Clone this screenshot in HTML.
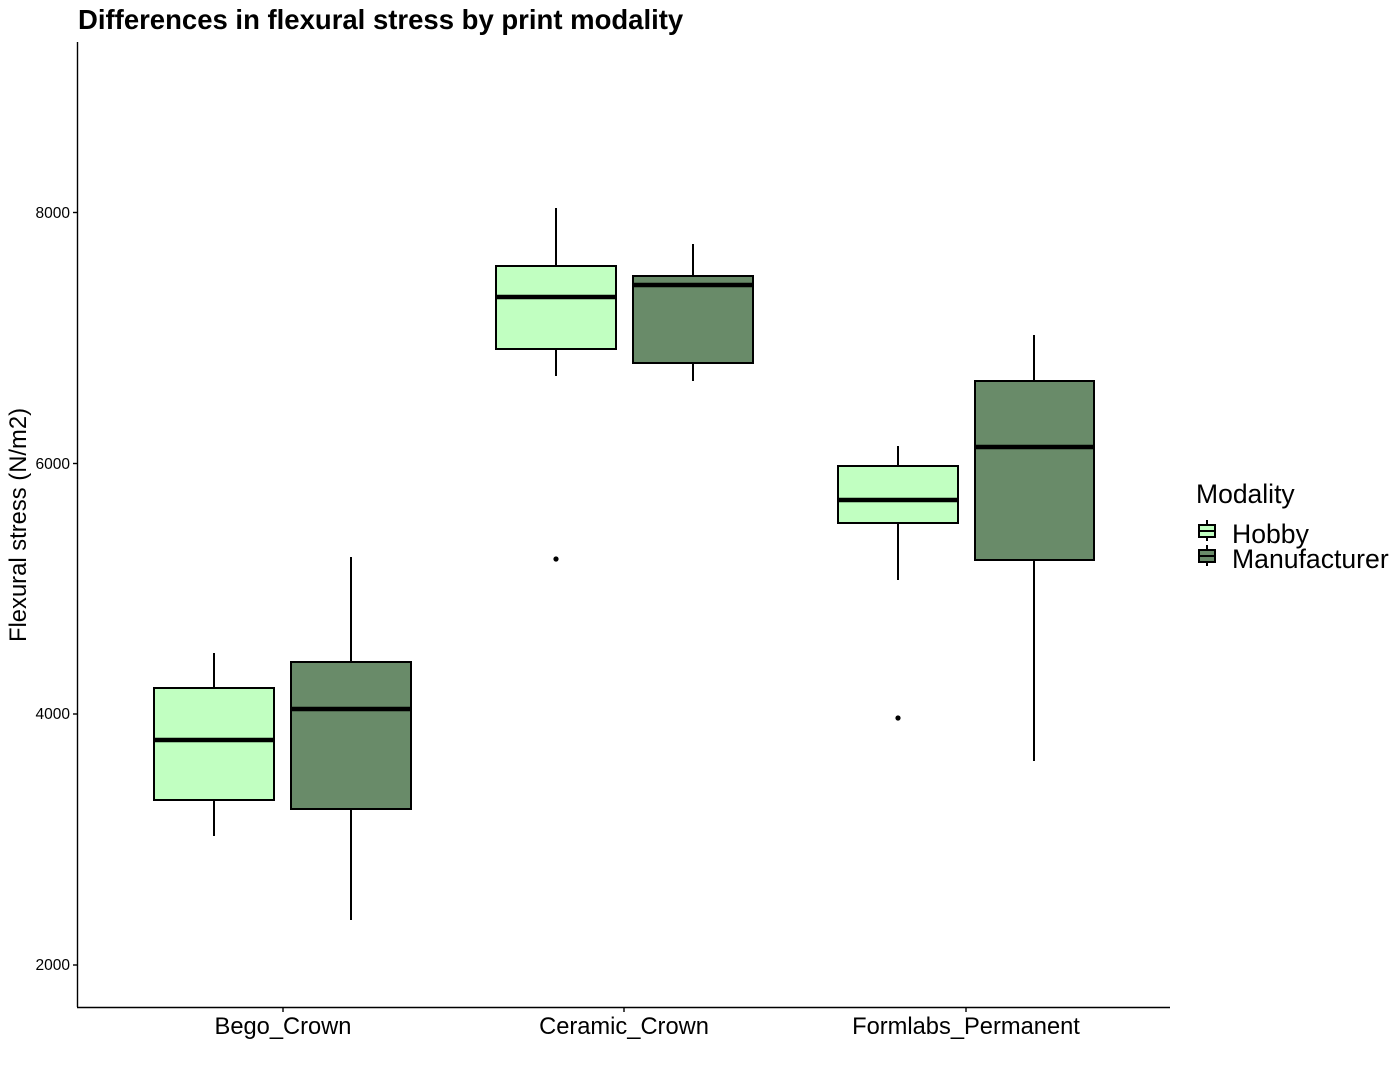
<!DOCTYPE html>
<html><head><style>body{margin:0;background:#fff}svg{display:block;font-family:"Liberation Sans",Arial,sans-serif}</style></head><body>
<svg width="1400" height="1066" viewBox="0 0 1400 1066" xmlns="http://www.w3.org/2000/svg">
<rect width="1400" height="1066" fill="#fff"/>
<text x="78" y="29" font-size="27.5" font-weight="bold">Differences in flexural stress by print modality</text>
<g stroke="#000" stroke-width="1.4" fill="none">
<line x1="77.5" y1="42" x2="77.5" y2="1007"/>
<line x1="77" y1="1007.5" x2="1170" y2="1007.5"/>
<line x1="73" y1="212.5" x2="77" y2="212.5"/>
<line x1="73" y1="463.5" x2="77" y2="463.5"/>
<line x1="73" y1="714" x2="77" y2="714"/>
<line x1="73" y1="965" x2="77" y2="965"/>
<line x1="283" y1="1007" x2="283" y2="1012"/>
<line x1="624" y1="1007" x2="624" y2="1012"/>
<line x1="966" y1="1007" x2="966" y2="1012"/>
</g>
<g font-size="15.5" text-anchor="end">
<text x="70" y="218">8000</text><text x="70" y="469">6000</text><text x="70" y="719">4000</text><text x="70" y="970">2000</text>
</g>
<g font-size="23.7" text-anchor="middle">
<text x="283" y="1034">Bego_Crown</text><text x="624" y="1034">Ceramic_Crown</text><text x="966" y="1034">Formlabs_Permanent</text>
</g>
<text transform="translate(26,525) rotate(-90)" font-size="23.8" text-anchor="middle">Flexural stress (N/m2)</text>
<g stroke="#000" stroke-width="2">
<line x1="214" y1="653" x2="214" y2="836"/><rect x="154" y="688" width="120" height="112" fill="#C1FFC1"/><line x1="154" y1="740" x2="274" y2="740" stroke-width="4.5"/>
<line x1="351" y1="557" x2="351" y2="920"/><rect x="291" y="662" width="120" height="147" fill="#698B69"/><line x1="291" y1="709" x2="411" y2="709" stroke-width="4.5"/>
<line x1="556" y1="208" x2="556" y2="376"/><rect x="496" y="266" width="120" height="83" fill="#C1FFC1"/><line x1="496" y1="297" x2="616" y2="297" stroke-width="4.5"/>
<line x1="693" y1="244" x2="693" y2="381"/><rect x="633" y="276" width="120" height="87" fill="#698B69"/><line x1="633" y1="285" x2="753" y2="285" stroke-width="4.5"/>
<line x1="898" y1="446" x2="898" y2="580"/><rect x="838" y="466" width="120" height="57" fill="#C1FFC1"/><line x1="838" y1="500" x2="958" y2="500" stroke-width="4.5"/>
<line x1="1034" y1="335" x2="1034" y2="761"/><rect x="975" y="381" width="119" height="179" fill="#698B69"/><line x1="975" y1="447" x2="1094" y2="447" stroke-width="4.5"/>
</g>
<circle cx="556" cy="559" r="2.6"/><circle cx="898" cy="718" r="2.6"/>
<text x="1196" y="503" font-size="26.5">Modality</text>
<g stroke="#000" stroke-width="2">
<line x1="1207" y1="520" x2="1207" y2="541"/><rect x="1199" y="525" width="16" height="12" fill="#C1FFC1"/><line x1="1199" y1="531" x2="1215" y2="531"/>
<line x1="1207" y1="545" x2="1207" y2="566"/><rect x="1199" y="550" width="16" height="12" fill="#698B69"/><line x1="1199" y1="556" x2="1215" y2="556"/>
</g>
<text x="1232" y="543" font-size="26.6">Hobby</text>
<text x="1232" y="568" font-size="26.6">Manufacturer</text>
</svg>
</body></html>
